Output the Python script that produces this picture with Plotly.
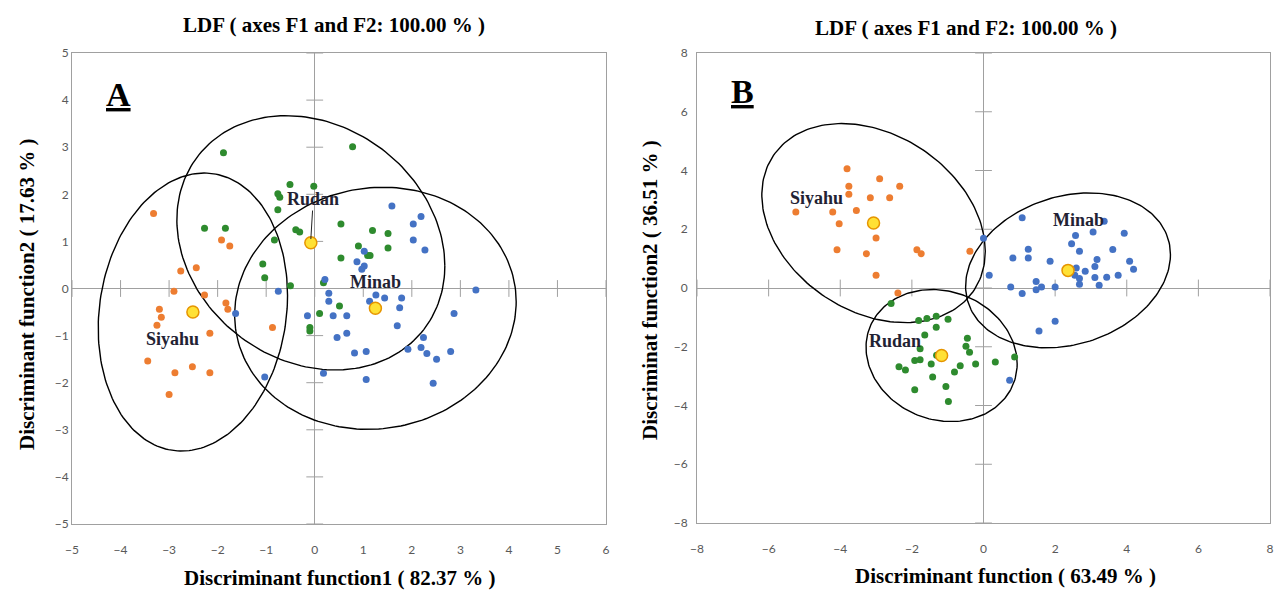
import numpy as np
import plotly.graph_objects as go

# ---------------- Panel A data ----------------
a_siyahu_x = [-3.32, -1.92, -1.75, -2.76, -2.44, -2.90, -2.27, -3.20, -3.16, -3.25, -2.16, -1.83, -1.79,
              -0.87, -3.44, -2.88, -2.52, -2.16, -3.00]
a_siyahu_y = [1.59, 1.03, 0.90, 0.37, 0.44, -0.06, -0.14, -0.44, -0.61, -0.78, -0.95, -0.31, -0.44,
              -0.83, -1.54, -1.79, -1.66, -1.79, -2.25]
a_rudan_x = [-1.88, 0.78, -0.51, -0.02, -0.76, -0.72, -0.76, -2.27, -1.84, -0.39, -0.31, -0.83, 0.54, 1.19,
             1.51, 0.90, 1.09, 1.14, 1.51, 0.54, -1.07, -1.03, -0.50, 0.18, 0.51, 0.10, -0.10, -0.10]
a_rudan_y = [2.88, 3.01, 2.21, 2.17, 2.01, 1.94, 1.67, 1.28, 1.28, 1.25, 1.20, 1.03, 1.37, 1.23,
             1.17, 0.90, 0.70, 0.70, 0.86, 0.65, 0.52, 0.23, 0.06, 0.12, -0.37, -0.53, -0.83, -0.90]
a_minab_x = [1.59, 2.19, 2.03, 2.03, 2.27, 1.02, 0.87, 1.02, 0.97, 0.21, 0.29, 0.29, 1.26, 1.44, 1.79, 1.13,
             3.32, -0.15, 0.38, 0.66, 1.75, 2.87, 1.70, 0.46, 0.66, 2.24, 0.82, 1.06, 1.92, 2.19, 2.31,
             2.51, 2.80, 0.18, 1.06, 2.44, -1.63, -0.75, -1.03]
a_minab_y = [1.75, 1.53, 1.37, 1.03, 0.82, 0.79, 0.57, 0.48, 0.41, 0.19, -0.10, -0.27, -0.14, -0.20, -0.20,
             -0.27, -0.03, -0.58, -0.58, -0.58, -0.41, -0.53, -0.79, -1.04, -0.95, -1.04, -1.37, -1.34,
             -1.29, -1.25, -1.38, -1.50, -1.34, -1.80, -1.93, -2.01, -0.53, -0.06, -1.88]
a_centroid_names = ["Siyahu", "Rudan", "Minab"]
a_centroid_x = [-2.51, -0.08, 1.25]
a_centroid_y = [-0.50, 0.97, -0.42]
# ellipse parameters per group: x = cx + a11*cos t ; y = cy + a21*cos t + a22*sin t
a_ell_a11 = [1.95, 2.76, 2.90]
a_ell_a21 = [0.35, -0.49, 0.14]
a_ell_a22 = [2.93, 2.655, 2.566]
a_label_x = [-2.94, -0.08, 1.26]
a_label_y = [-1.07, 1.90, 0.14]

# ---------------- Panel B data ----------------
b_siyahu_x = [-3.81, -2.90, -3.76, -3.76, -2.34, -3.16, -2.62, -5.24, -4.21, -3.55, -4.03, -3.00, -4.09,
              -3.27, -1.86, -1.74, -0.38, -3.00, -2.39]
b_siyahu_y = [4.06, 3.72, 3.46, 3.19, 3.46, 3.07, 3.07, 2.59, 2.59, 2.64, 2.19, 1.70, 1.30,
              1.17, 1.30, 1.17, 1.25, 0.43, -0.17]
b_rudan_x = [-2.58, -1.81, -1.58, -1.32, -0.99, -1.32, -1.64, -0.45, -0.49, -0.39, -1.77, -1.92, -1.77,
             -1.31, -1.46, -2.36, -2.18, -0.65, -0.81, -0.22, 0.33, -1.42, -1.05, -1.92, -0.98, 0.87]
b_rudan_y = [-0.53, -1.11, -1.04, -0.96, -1.06, -1.34, -1.60, -1.71, -1.98, -2.19, -2.07, -2.47, -2.44,
             -2.29, -2.59, -2.68, -2.79, -2.65, -2.86, -2.59, -2.52, -3.03, -3.35, -3.46, -3.86, -2.35]
b_minab_x = [1.08, 3.37, 3.06, 2.57, 3.93, 2.46, 2.68, 3.61, 1.25, 1.25, 0.82, 3.17, 1.86, 4.08, 4.19,
             3.11, 2.84, 2.59, 2.55, 2.68, 2.68, 3.11, 3.44, 3.76, 3.23, 0.16, 0.76, 1.08, 1.47, 1.62,
             2.00, 2.00, 1.55, 0.00, 0.73, 1.47]
b_minab_y = [2.39, 2.27, 1.91, 1.79, 1.86, 1.51, 1.25, 1.31, 1.32, 1.02, 1.02, 0.97, 0.91, 0.91, 0.64,
             0.73, 0.57, 0.68, 0.43, 0.32, 0.13, 0.36, 0.37, 0.43, 0.09, 0.43, 0.03, -0.19, -0.06, 0.03,
             0.03, -1.13, -1.46, 1.69, -3.14, 0.22]
b_centroid_names = ["Siyahu", "Rudan", "Minab"]
b_centroid_x = [-3.07, -1.17, 2.36]
b_centroid_y = [2.21, -2.30, 0.60]
b_ell_a11 = [3.12, 2.11, 2.86]
b_ell_a21 = [-0.96, -0.28, 0.54]
b_ell_a22 = [3.25, 2.23, 2.58]
b_label_x = [-4.66, -2.48, 2.66]
b_label_y = [3.07, -1.81, 2.30]

a_ticks = list(range(-5, 7))
a_yticks = list(range(-5, 6))
b_ticks = list(range(-8, 9, 2))

ORANGE = "#ED7D31"
GREEN = "#2E8B2E"
BLUE = "#4472C4"
AXIS_GRAY = "#A0A0A0"
SERIF = "Liberation Serif"

fig = go.Figure()


def add_panel(xr, yr, sx, sy, rx, ry, mx, my, cx, cy, a11, a21, a22, xt, yt):
    # cross ticks on the zero axes
    fig.add_trace(go.Scatter(x=[0] * len(yt), y=yt, mode="markers", xaxis=xr, yaxis=yr,
                             marker=dict(symbol="line-ew", size=12, line=dict(color=AXIS_GRAY, width=1)),
                             hoverinfo="skip", showlegend=False))
    fig.add_trace(go.Scatter(x=xt, y=[0] * len(xt), mode="markers", xaxis=xr, yaxis=yr,
                             marker=dict(symbol="line-ns", size=12, line=dict(color=AXIS_GRAY, width=1)),
                             hoverinfo="skip", showlegend=False))
    t = np.linspace(0, 2 * np.pi, 200)
    for i in range(3):
        ex = cx[i] + a11[i] * np.cos(t)
        ey = cy[i] + a21[i] * np.cos(t) + a22[i] * np.sin(t)
        fig.add_trace(go.Scatter(x=ex, y=ey, mode="lines", xaxis=xr, yaxis=yr,
                                 line=dict(color="black", width=1.4), hoverinfo="skip", showlegend=False))
    for px, py, col in [(sx, sy, ORANGE), (rx, ry, GREEN), (mx, my, BLUE)]:
        fig.add_trace(go.Scatter(x=px, y=py, mode="markers", xaxis=xr, yaxis=yr,
                                 marker=dict(color=col, size=7), showlegend=False))
    fig.add_trace(go.Scatter(x=cx, y=cy, mode="markers", xaxis=xr, yaxis=yr,
                             marker=dict(color="#FFE135", size=12, line=dict(color="#E69500", width=1.5)),
                             showlegend=False))


add_panel("x", "y", a_siyahu_x, a_siyahu_y, a_rudan_x, a_rudan_y, a_minab_x, a_minab_y,
          a_centroid_x, a_centroid_y, a_ell_a11, a_ell_a21, a_ell_a22, a_ticks, a_yticks)
add_panel("x2", "y2", b_siyahu_x, b_siyahu_y, b_rudan_x, b_rudan_y, b_minab_x, b_minab_y,
          b_centroid_x, b_centroid_y, b_ell_a11, b_ell_a21, b_ell_a22, b_ticks, b_ticks)

tickfont = dict(family="Lato", size=12, color="#595959")
common = dict(showgrid=False, zeroline=True, zerolinecolor=AXIS_GRAY, zerolinewidth=1,
              showline=True, linecolor=AXIS_GRAY, linewidth=1, mirror=True, ticks="",
              tickfont=tickfont, fixedrange=True, automargin=False)

fig.update_layout(
    template="none",
    width=1282, height=591,
    margin=dict(l=0, r=0, t=0, b=0, pad=0, autoexpand=False),
    paper_bgcolor="white", plot_bgcolor="white",
    xaxis=dict(domain=[72 / 1282, 606 / 1282], range=[-5, 6], tickvals=a_ticks, anchor="y",
               ticklabelstandoff=15, **common),
    yaxis=dict(domain=[1 - 524 / 591, 1 - 53 / 591], range=[-5, 5], tickvals=a_yticks, anchor="x",
               ticklabelstandoff=0, **common),
    xaxis2=dict(domain=[697 / 1282, 1270 / 1282], range=[-8, 8], tickvals=b_ticks, anchor="y2",
                ticklabelstandoff=15, **common),
    yaxis2=dict(domain=[1 - 523 / 591, 1 - 53 / 591], range=[-8, 8], tickvals=b_ticks, anchor="x2",
                ticklabelstandoff=6, **common),
)

ann = []
title_font = dict(family=SERIF, size=21, color="black")


def paper_text(text, px, py, font, angle=0):
    ann.append(dict(text=text, x=px / 1282, y=1 - py / 591, xref="paper", yref="paper",
                    xanchor="center", yanchor="middle", showarrow=False, textangle=angle, font=font))


paper_text("<b>LDF ( axes F1 and F2: 100.00 % )</b>", 334, 25, title_font)
paper_text("<b>LDF ( axes F1 and F2: 100.00 % )</b>", 966, 28, title_font)
paper_text("<b>Discriminant function1 ( 82.37 % )</b>", 340, 578, title_font)
paper_text("<b>Discriminant function ( 63.49 % )</b>", 1005, 576, title_font)
paper_text("<b>Discriminant function2 ( 17.63 % )</b>", 27, 294, title_font, -90)
paper_text("<b>Discriminat function2 ( 36.51 % )</b>", 650, 290, title_font, -90)
paper_text("<b><u>A</u></b>", 118, 94, dict(family=SERIF, size=34, color="black"))
paper_text("<b><u>B</u></b>", 742, 92, dict(family=SERIF, size=34, color="black"))

lab_font = dict(family=SERIF, size=18, color="#222233")
for i, name in enumerate(a_centroid_names):
    if name == "Rudan":
        ann.append(dict(text="<b>" + name + "</b>", x=a_centroid_x[i], y=a_centroid_y[i] + 0.08,
                        ax=a_label_x[i] + 0.05, ay=a_label_y[i], axref="x", ayref="y", xref="x", yref="y",
                        showarrow=True, arrowhead=0, arrowwidth=1, arrowcolor="#222222", font=lab_font))
    else:
        ann.append(dict(text="<b>" + name + "</b>", x=a_label_x[i], y=a_label_y[i], xref="x", yref="y",
                        showarrow=False, font=lab_font))
for i, name in enumerate(b_centroid_names):
    ann.append(dict(text="<b>" + name + "</b>", x=b_label_x[i], y=b_label_y[i], xref="x2", yref="y2",
                    showarrow=False, font=lab_font))

fig.update_layout(annotations=ann)
fig.write_html("out.html", config={"displayModeBar": False},
               post_script="document.body.style.margin='0';document.body.style.overflow='hidden';")
